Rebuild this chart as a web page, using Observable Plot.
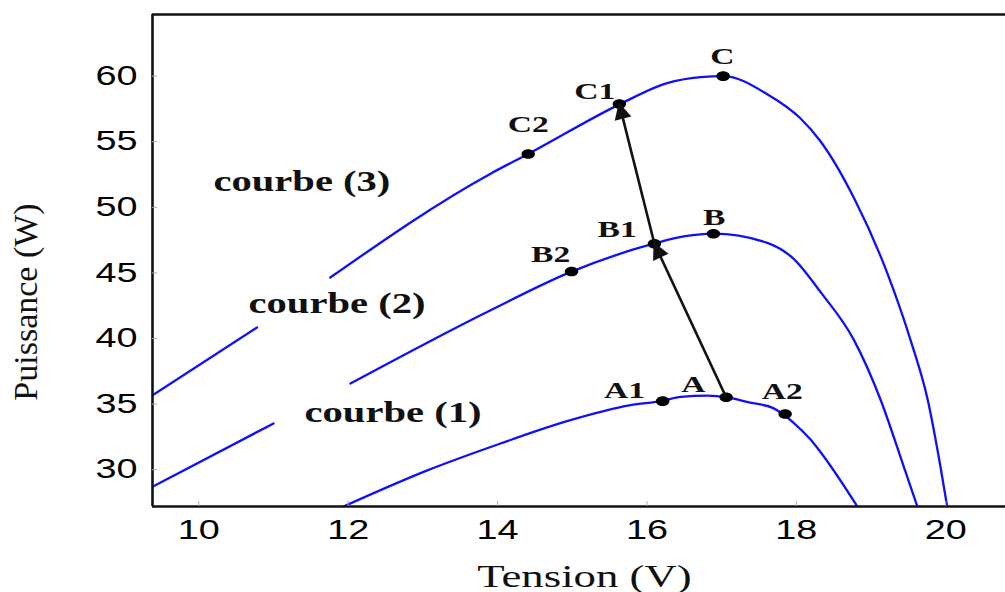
<!DOCTYPE html>
<html>
<head>
<meta charset="utf-8">
<script src="https://cdn.jsdelivr.net/npm/d3@7"></script>
<script src="https://cdn.jsdelivr.net/npm/@observablehq/plot@0.6"></script>
<style>
  html, body { margin: 0; padding: 0; background: #fff; }
  #chart { width: 1005px; height: 592px; overflow: hidden; }
</style>
</head>
<body>
<div id="chart"></div>
<script>
// P-V characteristic samples: [tension (V), puissance (W)]; null = break in the drawn line
const curve1 = [[11.9,27.1],[13.06,29.95],[14.04,32.0],[14.93,33.7],[15.78,34.92],[16.21,35.25],[16.45,35.55],[16.81,35.65],[17.06,35.53],[17.35,35.15],[17.69,34.7],[17.96,33.6],[18.19,32.3],[18.33,31.3],[18.82,27.17]];
const curve2 = [[9.38,28.7],[11.0,33.53],null,[12.03,36.57],[13.9,42.14],[14.99,45.1],[16.09,47.23],[16.51,47.8],[16.89,48.0],[17.61,47.3],[17.96,46.1],[18.33,43.5],[18.77,39.9],[19.13,35.3],[19.44,30.2],[19.62,27.2]];
const curve3 = [[9.38,35.68],[10.78,40.85],null,[11.76,44.65],[13.9,52.55],[14.41,54.07],[15.64,57.87],[16.27,59.47],[16.72,59.92],[17.02,60.0],[17.61,58.63],[18.05,56.81],[18.32,55.06],[18.77,50.73],[19.22,44.95],[19.53,39.86],[19.76,35.3],[19.93,30.21],[20.02,27.17]];

const curveNames = ["courbe (1)", "courbe (2)", "courbe (3)"];
const curveLabelV = [12.60, 11.85, 11.38];
const curveLabelP = [34.34, 42.62, 51.97];

// operating points on the curves
const pointNames = ["A", "A1", "A2", "B", "B1", "B2", "C", "C1", "C2"];
const pointV = [17.06, 16.21, 17.85, 16.89, 16.10, 14.99, 17.02, 15.63, 14.41];
const pointP = [35.53, 35.23, 34.25, 47.99, 47.23, 45.11, 60.0, 57.87, 54.07];
const pointLabelV = [16.62, 15.70, 17.81, 16.90, 15.60, 14.71, 17.01, 15.30, 14.41];
const pointLabelP = [36.52, 36.06, 35.99, 49.21, 48.30, 46.40, 61.52, 58.86, 56.35];

// displacement of the operating point
const arrowFrom = ["A", "B1"];
const arrowTo = ["B1", "C1"];

const xTicks = [10, 12, 14, 16, 18, 20];
const yTicks = [30, 35, 40, 45, 50, 55, 60];
const xDomain = [9.38, 20.8];
const yDomain = [27.2, 64.7];

const xTitle = "Tension (V)";
const yTitle = "Puissance (W)";

// ---- tables built from the arrays above
const curveRows = [];
[curve1, curve2, curve3].forEach((c, k) => {
  c.forEach(p => curveRows.push({curve: curveNames[k], V: p ? p[0] : NaN, P: p ? p[1] : NaN}));
});
const points = pointNames.map((name, i) => ({name, V: pointV[i], P: pointP[i], lV: pointLabelV[i], lP: pointLabelP[i]}));
const byName = new Map(points.map(d => [d.name, d]));
const arrows = arrowFrom.map((a, i) => ({from: byName.get(a), to: byName.get(arrowTo[i])}));
const curveLabels = curveNames.map((name, i) => ({name, V: curveLabelV[i], P: curveLabelP[i]}));

// the figure's horizontal lettering and dots are wider than tall
const STRETCH = 1.4;
const oval = {
  draw(context, size) {
    const r = Math.sqrt(size / Math.PI);
    const rx = r * STRETCH, ry = r, k = 0.5523;
    context.moveTo(rx, 0);
    context.bezierCurveTo(rx, ry * k, rx * k, ry, 0, ry);
    context.bezierCurveTo(-rx * k, ry, -rx, ry * k, -rx, 0);
    context.bezierCurveTo(-rx, -ry * k, -rx * k, -ry, 0, -ry);
    context.bezierCurveTo(rx * k, -ry, rx, -ry * k, rx, 0);
    context.closePath();
  }
};

// filled triangular arrowhead
function solidHead(color, context) {
  const doc = (context && context.document) || document;
  const ns = "http://www.w3.org/2000/svg";
  const marker = doc.createElementNS(ns, "marker");
  marker.setAttribute("viewBox", "-18 -10 21 20");
  marker.setAttribute("markerWidth", 21);
  marker.setAttribute("markerHeight", 20);
  marker.setAttribute("refX", 0);
  marker.setAttribute("refY", 0);
  marker.setAttribute("markerUnits", "userSpaceOnUse");
  marker.setAttribute("orient", "auto");
  marker.setAttribute("overflow", "visible");
  const path = doc.createElementNS(ns, "path");
  path.setAttribute("d", "M2,0L-15,-8.5L-15,8.5Z");
  path.setAttribute("fill", color);
  path.setAttribute("stroke", "none");
  marker.appendChild(path);
  return marker;
}

const serif = "'Liberation Serif', 'Times New Roman', serif";
const sans = "'Liberation Sans', Arial, sans-serif";

const chart = Plot.plot({
  width: 1005,
  height: 592,
  marginLeft: 152,
  marginRight: 0,
  marginTop: 14,
  marginBottom: 86,
  x: {domain: xDomain},
  y: {domain: yDomain},
  style: {background: "white", color: "black", overflow: "visible"},
  marks: [
    Plot.line(curveRows, {x: "V", y: "P", z: "curve", stroke: "#1010f8", strokeWidth: 2.3, curve: "monotone-x", clip: true}),
    Plot.dot(points, {x: "V", y: "P", r: 4.8, symbol: oval, fill: "black", stroke: "none"}),
    Plot.link(arrows, {
      x1: d => d.from.V, y1: d => d.from.P, x2: d => d.to.V, y2: d => d.to.P,
      stroke: "#111", strokeWidth: 2.6, markerEnd: solidHead
    }),
    Plot.text(points, {x: "lV", y: "lP", text: "name", fontSize: 24, fontWeight: "bold", fontFamily: serif, fill: "#111", lineAnchor: "middle"}),
    Plot.text(curveLabels, {x: "V", y: "P", text: "name", fontSize: 29, fontWeight: "bold", fontFamily: serif, fill: "#111", lineAnchor: "middle"}),
    // frame: left, bottom and top edges
    Plot.ruleX([xDomain[0]], {stroke: "#111", strokeWidth: 2.6}),
    Plot.ruleY(yDomain, {stroke: "#111", strokeWidth: 2.6}),
    // small inward ticks
    Plot.axisX(xTicks, {anchor: "bottom", tickSize: -5, tickFormat: () => "", stroke: "#aaa", label: null}),
    Plot.axisY(yTicks, {anchor: "left", tickSize: -5, tickFormat: () => "", stroke: "#aaa", label: null}),
    // tick labels
    Plot.axisX(xTicks, {anchor: "bottom", tickSize: 0, tickPadding: 13, fontSize: 27, fontFamily: sans, label: null}),
    Plot.axisY(yTicks, {anchor: "left", tickSize: 0, tickPadding: 15, fontSize: 27, fontFamily: sans, label: null}),
    // axis titles
    Plot.text([xTitle], {frameAnchor: "bottom", textAnchor: "middle", dx: 5.5, dy: 70, fontSize: 32, fontFamily: serif, fill: "#111", lineAnchor: "middle"}),
    Plot.text([yTitle], {frameAnchor: "left", textAnchor: "middle", rotate: -90, dx: -126.5, dy: 41.5, fontSize: 34, fontFamily: serif, fill: "#111", lineAnchor: "middle"})
  ]
});

document.getElementById("chart").appendChild(chart);

// widen the horizontal lettering around each text anchor (rotated title left as is)
chart.querySelectorAll("text").forEach(t => {
  const tr = t.getAttribute("transform");
  if (tr && tr.includes("rotate")) return;
  if (tr) {
    t.setAttribute("transform", `${tr} scale(${STRETCH},1)`);
  } else {
    const x = +t.getAttribute("x") || 0, y = +t.getAttribute("y") || 0;
    t.setAttribute("transform", `translate(${x},${y}) scale(${STRETCH},1) translate(${-x},${-y})`);
  }
});
</script>
</body>
</html>
